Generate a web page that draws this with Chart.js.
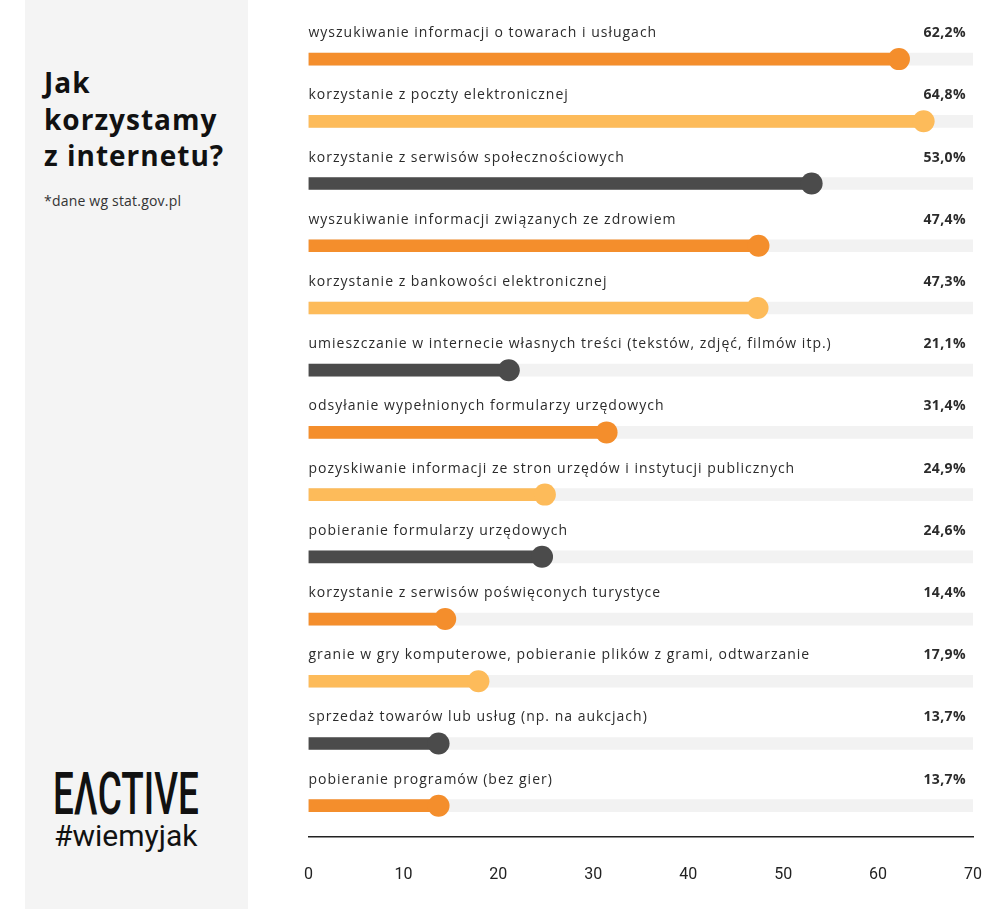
<!DOCTYPE html>
<html>
<head>
<meta charset="utf-8">
<script src="https://cdn.jsdelivr.net/npm/chart.js@4"></script>
<style>
  html, body { margin: 0; padding: 0; background: #fff; }
  body { width: 1000px; height: 909px; position: relative; overflow: hidden; font-family: "Open Sans", sans-serif; }
  #side { position: absolute; left: 25px; top: 0; width: 223px; height: 909px; background: #f4f4f4; }
  #title { position: absolute; left: 19px; top: 64px; margin: 0; font-size: 28px; line-height: 36.5px; font-weight: 700; color: #111; letter-spacing: 1px; }
  #note { position: absolute; left: 19px; top: 191px; font-size: 14px; color: #333; letter-spacing: 0.2px; }
  #logo { position: absolute; left: 28px; top: 764px; font-family: Roboto, sans-serif; font-size: 60px; line-height: 60px; font-weight: 500; color: #111; transform: scaleX(0.614); transform-origin: left top; white-space: nowrap; }
  #tag { position: absolute; left: 29px; top: 819px; font-family: Roboto, sans-serif; font-size: 30px; line-height: 34px; font-weight: 400; color: #111; }
  /* canvas is a bit bigger than the page so the plot area lands where the reference has it */
  #wrap { position: absolute; left: 275px; top: 0; width: 736px; height: 914px; }
</style>
</head>
<body>
<div id="side">
  <h1 id="title">Jak<br>korzystamy<br>z internetu?</h1>
  <div id="note">*dane wg stat.gov.pl</div>
  <div id="logo">EΛCTIVE</div>
  <div id="tag">#wiemyjak</div>
</div>
<div id="wrap"><canvas id="myChart"></canvas></div>
<script>
var categories = [
    'wyszukiwanie informacji o towarach i usługach',
    'korzystanie z poczty elektronicznej',
    'korzystanie z serwisów społecznościowych',
    'wyszukiwanie informacji związanych ze zdrowiem',
    'korzystanie z bankowości elektronicznej',
    'umieszczanie w internecie własnych treści (tekstów, zdjęć, filmów itp.)',
    'odsyłanie wypełnionych formularzy urzędowych',
    'pozyskiwanie informacji ze stron urzędów i instytucji publicznych',
    'pobieranie formularzy urzędowych',
    'korzystanie z serwisów poświęconych turystyce',
    'granie w gry komputerowe, pobieranie plików z grami, odtwarzanie',
    'sprzedaż towarów lub usług (np. na aukcjach)',
    'pobieranie programów (bez gier)'
];
var values = [62.2, 64.8, 53.0, 47.4, 47.3, 21.1, 31.4, 24.9, 24.6, 14.4, 17.9, 13.7, 13.7];
var valueLabels = ['62,2%', '64,8%', '53,0%', '47,4%', '47,3%', '21,1%', '31,4%', '24,9%', '24,6%', '14,4%', '17,9%', '13,7%', '13,7%'];
var axisMax = 70;

var palette = ['#f48e2c', '#fdbb5a', '#4b4b4b'];
var barColors = values.map(function (v, i) { return palette[i % 3]; });
var track = values.map(function () { return axisMax; });

// labels above each bar + value on the right
var rowLabels = {
    id: 'rowLabels',
    afterDatasetsDraw: function (chart) {
        var ctx = chart.ctx;
        var meta = chart.getDatasetMeta(2);
        var area = chart.chartArea;
        ctx.save();
        ctx.textBaseline = 'middle';
        ctx.fillStyle = '#2b2b2b';
        meta.data.forEach(function (bar, i) {
            var y = bar.y - 26;
            ctx.letterSpacing = '1px';
            ctx.font = '14px "Open Sans"';
            ctx.textAlign = 'left';
            ctx.fillText(categories[i], area.left, y);
            ctx.letterSpacing = '0.4px';
            ctx.font = 'bold 14px "Open Sans"';
            ctx.textAlign = 'right';
            ctx.fillText(valueLabels[i], area.right - 7, y);
        });
        ctx.restore();
    }
};

document.addEventListener('DOMContentLoaded', function () {
    var ctx = document.getElementById('myChart').getContext('2d');
    var chart = new Chart(ctx, {
        type: 'bar',
        data: {
            labels: categories,
            datasets: [{
                // dots at the end
                type: 'line',
                indexAxis: 'y',
                data: values,
                showLine: false,
                pointRadius: 11,
                pointHoverRadius: 11,
                pointBorderWidth: 0,
                pointBackgroundColor: barColors,
                pointBorderColor: barColors,
                order: 0
            }, {
                data: values,
                backgroundColor: barColors,
                barThickness: 12,
                grouped: false,
                order: 1
            }, {
                data: track,
                backgroundColor: '#f2f2f2',
                barThickness: 12,
                grouped: false,
                order: 2
            }]
        },
        options: {
            indexAxis: 'y',
            responsive: true,
            maintainAspectRatio: false,
            animation: false,
            layout: {
                autoPadding: false,
                padding: { top: 28, right: 0, bottom: 0, left: 0 }
            },
            plugins: {
                legend: { display: false },
                tooltip: { enabled: false }
            },
            scales: {
                y: {
                    type: 'category',
                    offset: true,
                    display: false
                },
                x: {
                    type: 'linear',
                    min: 0,
                    max: axisMax,
                    grid: { display: false, drawTicks: false },
                    border: { display: true, color: '#222', width: 1.5 },
                    ticks: {
                        stepSize: 10,
                        padding: 29,
                        color: '#222',
                        font: { family: '"Liberation Sans Narrow", Roboto', size: 16 }
                    }
                }
            }
        },
        plugins: [rowLabels]
    });
});
</script>
</body>
</html>
